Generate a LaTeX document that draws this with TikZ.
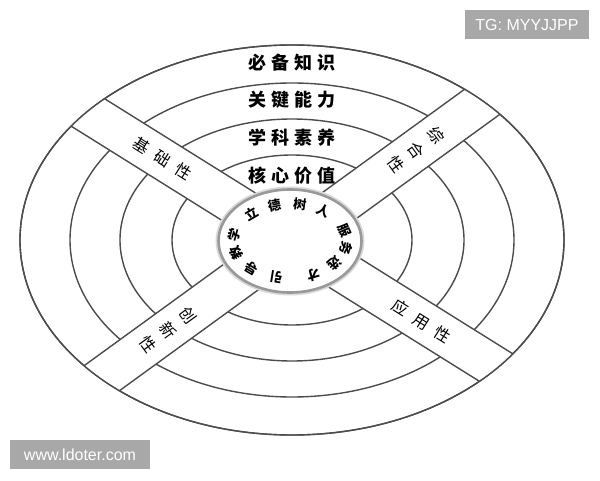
\documentclass[tikz,border=0pt]{standalone}
\usepackage{fontspec}
\newfontfamily\cjk{Noto Sans CJK SC}
\newfontfamily\cjkwide[LetterSpace=28]{Noto Sans CJK SC}
\newfontfamily\cjkband[LetterSpace=55]{Noto Sans CJK SC}
\newfontfamily\wmfont{Liberation Sans}
\usepackage{tikz}
\usetikzlibrary{shapes.geometric}
\usetikzlibrary{positioning, calc}

\begin{document}
\begin{tikzpicture}[
		x=1pt, y=1pt,
		ring/.style={draw=black!70, line width=1.4pt},
		band/.style={rectangle, draw=black!70, line width=1.4pt, fill=white, rounded corners=5pt, inner sep=0pt, minimum width=225pt, minimum height=41pt, font=\cjkband\fontsize{16}{25}\selectfont},
		vband/.style={band, minimum width=41pt, minimum height=225pt, align=center, font=\cjk\fontsize{16}{25}\selectfont},
		hub/.style={ellipse, fill=white, draw=black!40, line width=2.6pt, minimum width=143pt, minimum height=103pt, preaction={draw=black!15, line width=6pt}},
		hubtext/.style={font=\cjk\bfseries\fontsize{13}{13}\selectfont, inner sep=0pt},
		ringlabel/.style={font=\cjkwide\bfseries\fontsize{18}{18}\selectfont, inner sep=0pt},
		wm/.style={fill=black!34, text=white, inner sep=0pt, font=\wmfont\fontsize{16}{16}\selectfont}
		]
		
		\useasboundingbox (0,0) rectangle (600,480);
		\coordinate (c) at (292,240);
		
		\foreach \rx/\ry in {272/195, 222/157, 172/121, 120/85}
		\draw[ring] (c) ellipse [x radius=\rx, y radius=\ry];
		
		% four bands, cut by the outer ring
		\begin{scope}
			\clip (c) ellipse [x radius=272, y radius=195];
			\node[band, rotate=-32, anchor=east] (b1) at ($(c)+(148:40)$) {基础性};
			\node[band, rotate=-32, anchor=west] (b4) at ($(c)+(-32:40)$) {应用性};
			\node[vband, rotate=-54, anchor=south] (b2) at ($(c)+(36:40)$) {综\\合\\性};
			\node[vband, rotate=-54, anchor=north] (b3) at ($(c)+(216:40)$) {创\\新\\性};
		\end{scope}
		\draw[ring] (c) ellipse [x radius=272, y radius=195];
		
		\foreach \y/\txt [count=\i] in {417/必备知识, 380/关键能力, 342/学科素养, 304/核心价值}
		\node[ringlabel] (k\i) at (292,\y) {\txt};
		
		\node[hub] (hub) at (290,239) {};
		\foreach \a/\ch [count=\i] in {256/引, 227/导, 198/教, 170/学, 132/立, 106/德, 80/树, 54/人, 16/服, -12/务, -38/选, -66/才} {
			\pgfmathsetmacro{\rot}{atan2(sin(\a)/37, cos(\a)/57)-90}
			\node[hubtext, rotate=\rot] (t\i) at ($(hub.center)+(\a:57 and 37)$) {\ch};
		}
		
		\node[wm, minimum width=124pt, minimum height=29pt] (wm1) at (527,455.5) {TG: MYYJJPP};
		\node[wm, minimum width=140pt, minimum height=29pt] (wm2) at (80,25.5) {www.ldoter.com};
		\end{tikzpicture}
\end{document}
